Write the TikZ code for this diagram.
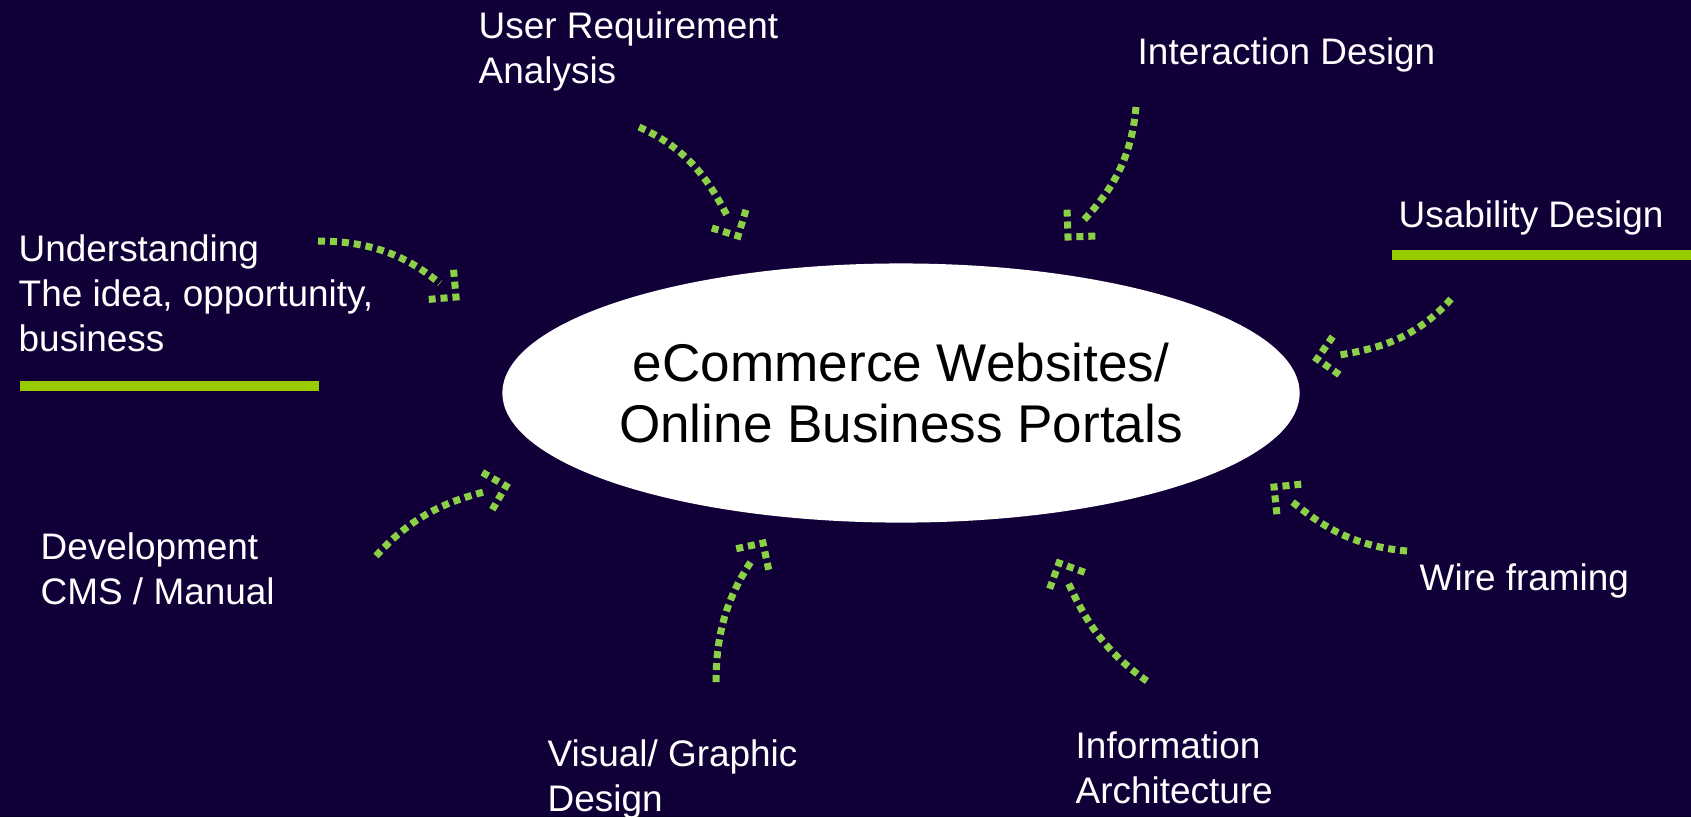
\documentclass[tikz,border=0pt]{standalone}
\usepackage{fontspec}
\setmainfont{Liberation Sans}
\usepackage{xcolor}
\usepackage{tikz}
\usetikzlibrary{shapes.geometric,decorations.markings}

\definecolor{night}{RGB}{17,0,56}
\definecolor{lime}{RGB}{140,208,72}
\definecolor{barlime}{RGB}{153,204,0}

\begin{document}
\begin{tikzpicture}[x=0.01cm,y=-0.01cm,
 topic/.style={font=\fontsize{10.5}{12.8}\selectfont,text=white,align=left,anchor=north west,inner sep=0pt},
 portal/.style={ellipse,fill=white,minimum width=7.85cm,minimum height=2.59cm,inner sep=0pt,align=center,font=\fontsize{15.1}{17.5}\selectfont},
 dots/.style={lime,line width=2pt,dash pattern=on 2pt off 1.4pt},
 hook/.style={dots,shorten >=6pt,postaction={decorate,decoration={markings,
   mark=at position 1 with {\draw[dots,shorten >=0pt,miter limit=4] (-5.5pt,5.5pt)--(0,0)--(-5.5pt,-5.5pt);}}}},
 bar/.style={fill=barlime}
]
\clip (0,0) rectangle (1691,817);
\fill[night] (0,0) rectangle (1691,817);

% centre
\node[portal] (portal) at (901,393) {eCommerce Websites/\\Online Business Portals};

% topics round it
\node[topic] (userreq) at (478,11) {User Requirement\\Analysis};
\node[topic] (interact) at (1137,37) {Interaction Design};
\node[topic] (usability) at (1398,200) {Usability Design};
\node[topic] (understand) at (18,234) {Understanding\\The idea, opportunity,\\business};
\node[topic] (develop) at (40,532) {Development\\CMS / Manual};
\node[topic] (visual) at (547,739) {Visual/ Graphic\\Design};
\node[topic] (inform) at (1075,731) {Information\\Architecture};
\node[topic] (wire) at (1419,563) {Wire framing};

\fill[bar] (20,381) rectangle (319,391);
\fill[bar] (1392,250) rectangle (1691,260);

% arrow ends
\coordinate (s1) at (318,241);  \coordinate (t1) at (456,297);
\coordinate (s2) at (639,127);  \coordinate (t2) at (738,236);
\coordinate (s3) at (1136,107); \coordinate (t3) at (1068,237);
\coordinate (s4) at (1451,299); \coordinate (t4) at (1317,359);
\coordinate (s5) at (1407,551); \coordinate (t5) at (1274,487);
\coordinate (s6) at (376,556);  \coordinate (t6) at (506,486);
\coordinate (s7) at (716,682);  \coordinate (t7) at (763,543);
\coordinate (s8) at (1147,681); \coordinate (t8) at (1059,563);

\draw[hook] (s1) to[out=0,in=140] (t1);
\draw[hook] (s2) to[out=-24,in=118] (t2);
\draw[hook] (s3) to[out=-95,in=47] (t3);
\draw[hook] (s4) to[out=228,in=10] (t4);
\draw[hook] (s5) to[out=175,in=-39] (t5);
\draw[hook] (s6) to[out=48,in=195] (t6);
\draw[hook] (s7) to[out=90,in=237] (t7);
\draw[hook] (s8) to[out=145,in=-65] (t8);
\end{tikzpicture}
\end{document}
